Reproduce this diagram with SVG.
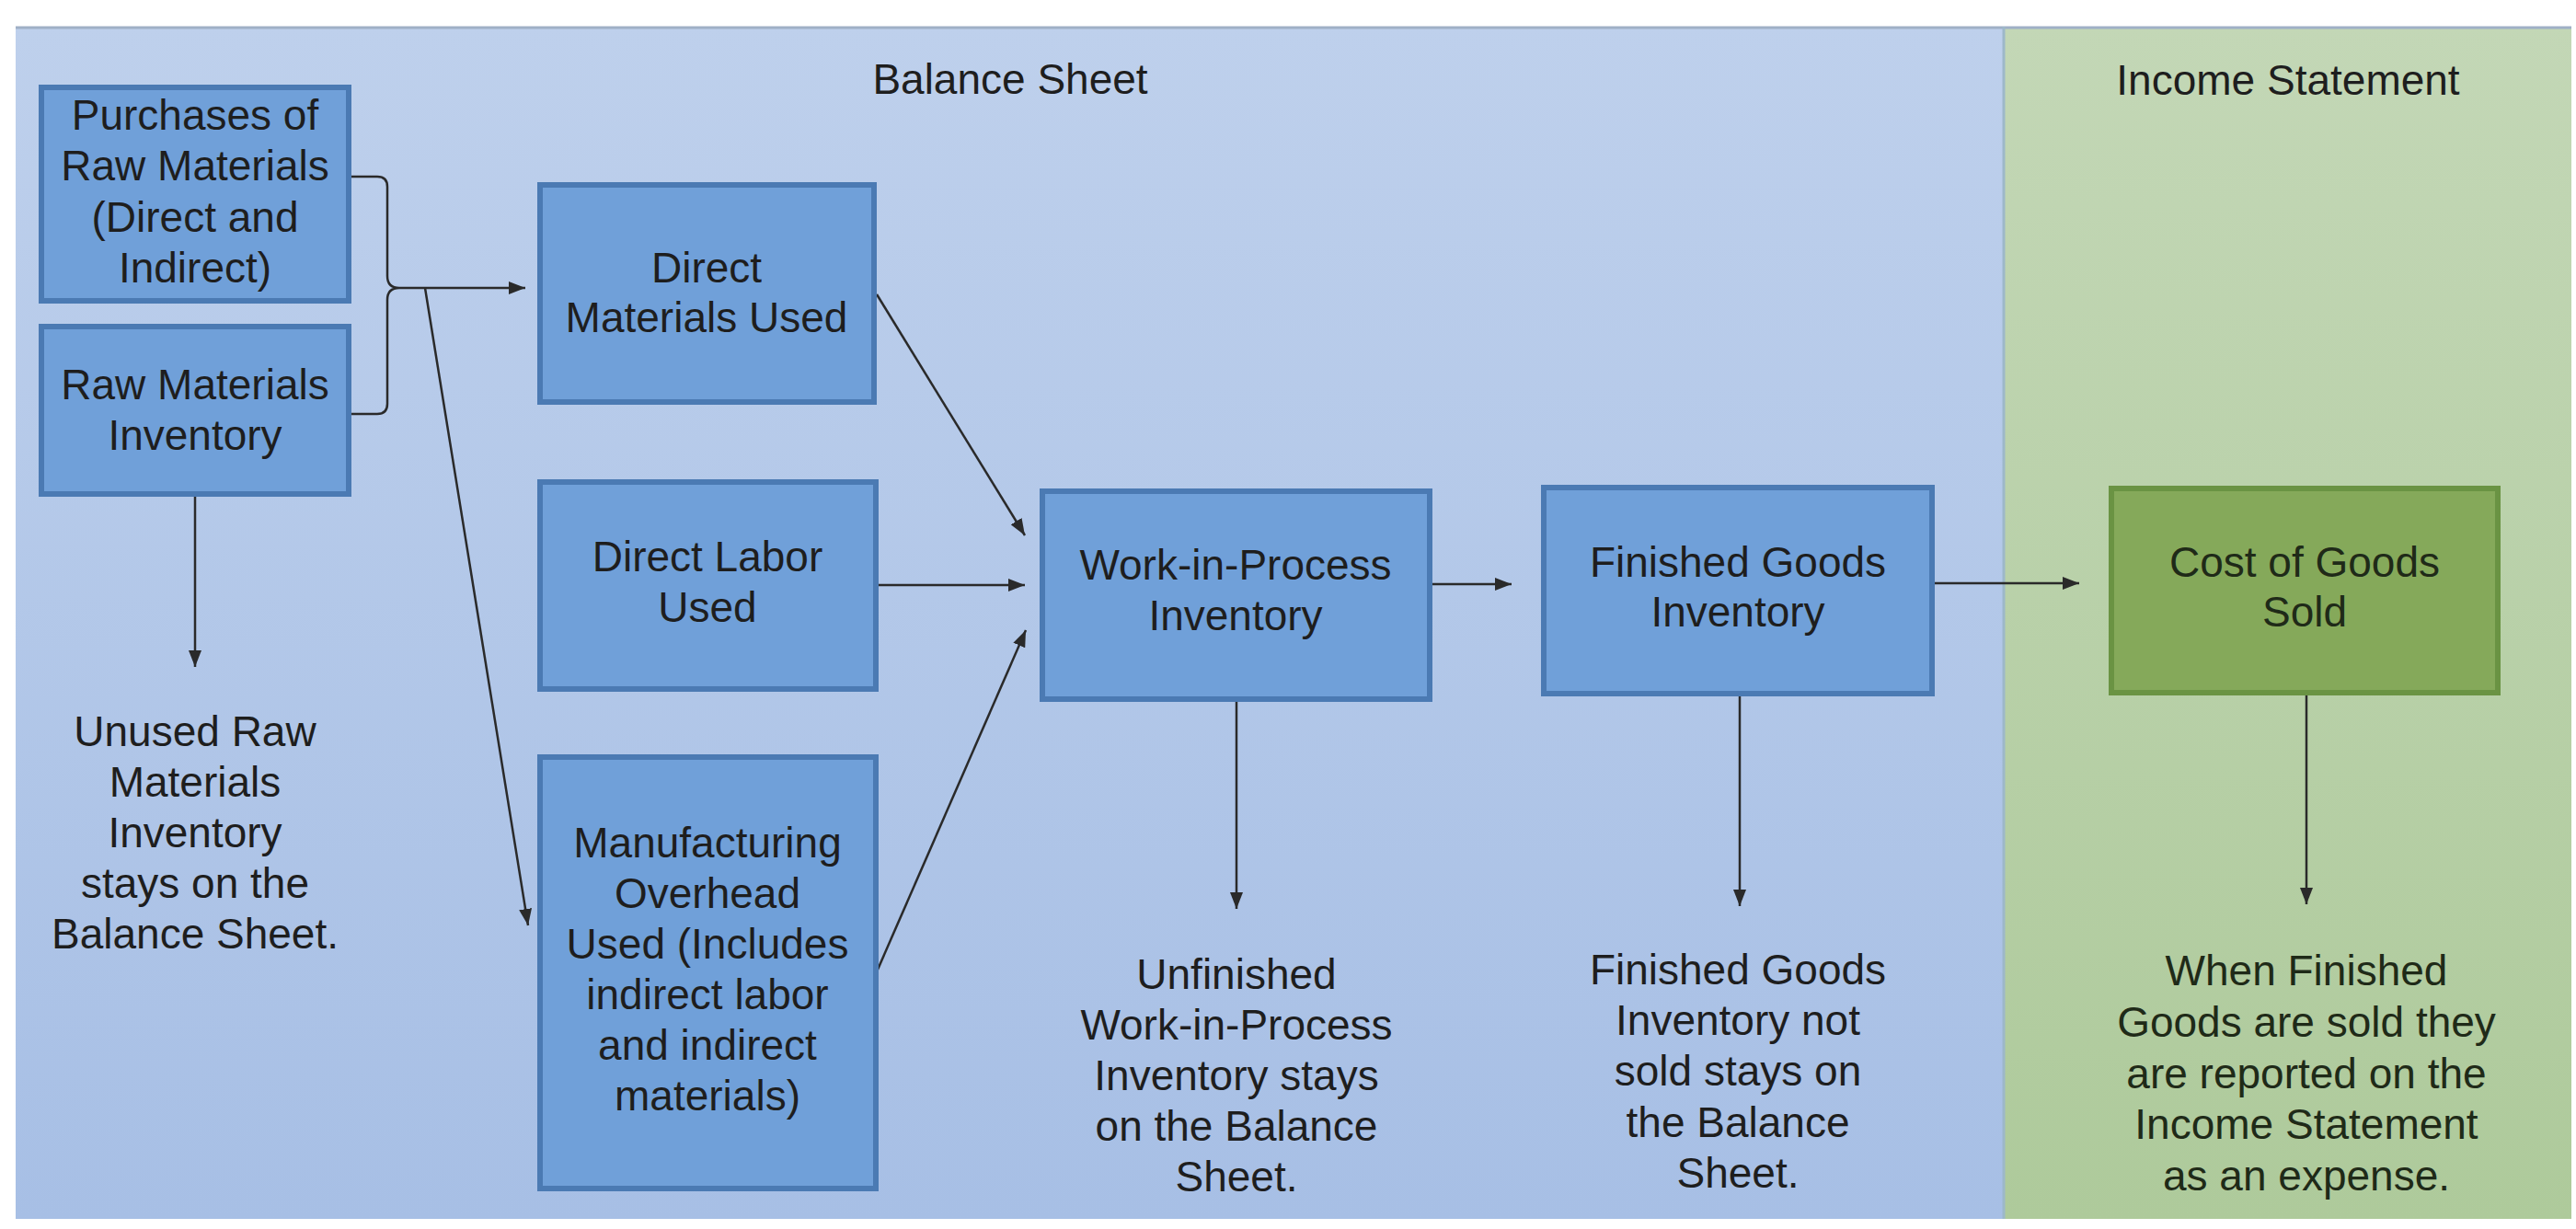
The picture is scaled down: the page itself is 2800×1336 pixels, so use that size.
<svg xmlns="http://www.w3.org/2000/svg" width="2800" height="1336" viewBox="0 0 2800 1336">
  <defs>
    <linearGradient id="gBlue" x1="0" y1="0" x2="0" y2="1">
      <stop offset="0" stop-color="#BED0EC"/>
      <stop offset="1" stop-color="#A7BFE5"/>
    </linearGradient>
    <linearGradient id="gGreen" x1="0" y1="0" x2="0" y2="1">
      <stop offset="0" stop-color="#C3D7B6"/>
      <stop offset="1" stop-color="#AECA9B"/>
    </linearGradient>
    <marker id="arr" markerUnits="userSpaceOnUse" markerWidth="18" markerHeight="14" refX="18" refY="7" orient="auto">
      <path d="M0,0 L18,7 L0,14 z" fill="#2a2a2a"/>
    </marker>
    <style>
      text { font-family: "Liberation Sans", Arial, sans-serif; font-size: 46px; fill: #1e1e1e; text-anchor: middle; }
      .box { fill: #70A0D9; stroke: #4B7AB3; stroke-width: 6; }
      .gbox { fill: #85A95A; stroke: #6A9343; stroke-width: 6; }
      .gtext { fill: #1f2a18; }
      .con { fill: none; stroke: #2a2a2a; stroke-width: 2.5; }
      .arrow { fill: none; stroke: #2a2a2a; stroke-width: 2.5; marker-end: url(#arr); }
    </style>
  </defs>
  <rect x="0" y="0" width="2800" height="1336" fill="#ffffff"/>

  <g id="panels">
    <rect x="17" y="29" width="2161" height="1296" fill="url(#gBlue)"/>
    <rect x="2178" y="29" width="617" height="1296" fill="url(#gGreen)"/>
    <line x1="17" y1="30" x2="2795" y2="30" stroke="#9FB0C6" stroke-width="3"/>
    <line x1="2178" y1="29" x2="2178" y2="1325" stroke="#9DB8C9" stroke-width="3"/>
    <text x="1098" y="102">Balance Sheet</text>
    <text x="2487" y="103">Income Statement</text>
  </g>

  <g id="connectors">
    <path class="con" d="M382,192 H410 Q421,192 421,203 V300 Q421,313 434,313 Q421,313 421,326 V439 Q421,450 410,450 H382"/>
    <line class="arrow" x1="434" y1="313" x2="571" y2="313"/>
    <line class="arrow" x1="462" y1="313" x2="574" y2="1006"/>
    <line class="arrow" x1="953" y1="320" x2="1114" y2="582"/>
    <line class="arrow" x1="955" y1="636" x2="1114" y2="636"/>
    <line class="arrow" x1="954" y1="1054" x2="1115" y2="685"/>
    <line class="arrow" x1="1557" y1="635" x2="1643" y2="635"/>
    <line class="arrow" x1="2103" y1="634" x2="2260" y2="634"/>
    <line class="arrow" x1="212" y1="540" x2="212" y2="725"/>
    <line class="arrow" x1="1344" y1="763" x2="1344" y2="988"/>
    <line class="arrow" x1="1891" y1="757" x2="1891" y2="985"/>
    <line class="arrow" x1="2507" y1="756" x2="2507" y2="983"/>
  </g>

  <g id="purchases">
    <rect class="box" x="45" y="95" width="334" height="232"/>
    <text x="212" y="141">Purchases of</text>
    <text x="212" y="196">Raw Materials</text>
    <text x="212" y="252">(Direct and</text>
    <text x="212" y="307">Indirect)</text>
  </g>

  <g id="raw-materials-inventory">
    <rect class="box" x="45" y="355" width="334" height="182"/>
    <text x="212" y="434">Raw Materials</text>
    <text x="212" y="489">Inventory</text>
  </g>

  <g id="direct-materials">
    <rect class="box" x="587" y="201" width="363" height="236"/>
    <text x="768" y="307">Direct</text>
    <text x="768" y="361">Materials Used</text>
  </g>

  <g id="direct-labor">
    <rect class="box" x="587" y="524" width="365" height="225"/>
    <text x="769" y="621">Direct Labor</text>
    <text x="769" y="676">Used</text>
  </g>

  <g id="overhead">
    <rect class="box" x="587" y="823" width="365" height="469"/>
    <text x="769" y="932">Manufacturing</text>
    <text x="769" y="987">Overhead</text>
    <text x="769" y="1042">Used (Includes</text>
    <text x="769" y="1097">indirect labor</text>
    <text x="769" y="1152">and indirect</text>
    <text x="769" y="1207">materials)</text>
  </g>

  <g id="wip">
    <rect class="box" x="1133" y="534" width="421" height="226"/>
    <text x="1343" y="630">Work-in-Process</text>
    <text x="1343" y="685">Inventory</text>
  </g>

  <g id="finished-goods">
    <rect class="box" x="1678" y="530" width="422" height="224"/>
    <text x="1889" y="627">Finished Goods</text>
    <text x="1889" y="681">Inventory</text>
  </g>

  <g id="cogs">
    <rect class="gbox" x="2295" y="531" width="420" height="222"/>
    <text class="gtext" x="2505" y="627">Cost of Goods</text>
    <text class="gtext" x="2505" y="681">Sold</text>
  </g>

  <g id="note-raw">
    <text x="212" y="811">Unused Raw</text>
    <text x="212" y="866">Materials</text>
    <text x="212" y="921">Inventory</text>
    <text x="212" y="976">stays on the</text>
    <text x="212" y="1031">Balance Sheet.</text>
  </g>

  <g id="note-wip">
    <text x="1344" y="1075">Unfinished</text>
    <text x="1344" y="1130">Work-in-Process</text>
    <text x="1344" y="1185">Inventory stays</text>
    <text x="1344" y="1240">on the Balance</text>
    <text x="1344" y="1295">Sheet.</text>
  </g>

  <g id="note-fg">
    <text x="1889" y="1070">Finished Goods</text>
    <text x="1889" y="1125">Inventory not</text>
    <text x="1889" y="1180">sold stays on</text>
    <text x="1889" y="1236">the Balance</text>
    <text x="1889" y="1291">Sheet.</text>
  </g>

  <g id="note-cogs">
    <text class="gtext" x="2507" y="1071">When Finished</text>
    <text class="gtext" x="2507" y="1127">Goods are sold they</text>
    <text class="gtext" x="2507" y="1183">are reported on the</text>
    <text class="gtext" x="2507" y="1238">Income Statement</text>
    <text class="gtext" x="2507" y="1294">as an expense.</text>
  </g>
</svg>
